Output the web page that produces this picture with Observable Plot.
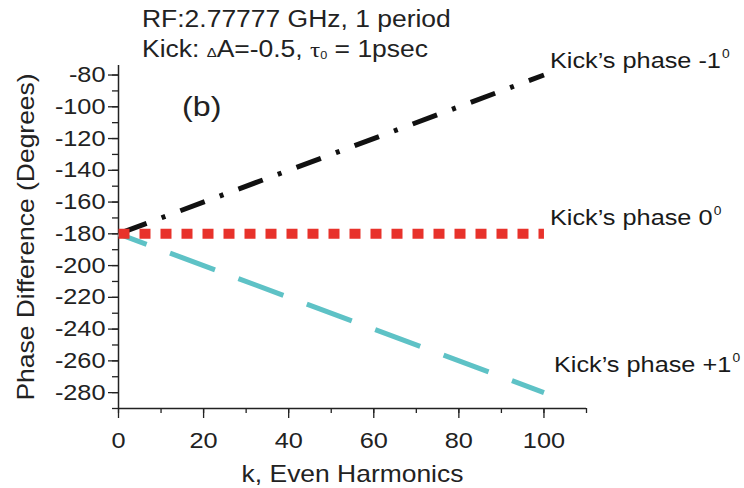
<!DOCTYPE html>
<html>
<head>
<meta charset="utf-8">
<script src="https://cdn.jsdelivr.net/npm/d3@7"></script>
<script src="https://cdn.jsdelivr.net/npm/@observablehq/plot@0.6"></script>
<style>
  body { margin: 0; background: #fff; font-family: "Liberation Sans", Arial, sans-serif; }
  #wrap { position: relative; width: 744px; height: 488px; overflow: hidden; }
  #chart { position: absolute; left: 0; top: 0; }
  .note { position: absolute; color: #222; white-space: nowrap; z-index: 2;
          transform: scaleX(1.15); transform-origin: left top; line-height: 1; }
  .title { left: 142px; font-size: 23px; }
  .greek { font-family: "Liberation Serif", serif; }
</style>
</head>
<body>
<div id="wrap">
  <div id="chart"></div>
  <div class="note title" style="top:8px">RF:2.77777 GHz, 1 period</div>
  <div class="note title" style="top:38px">Kick: <span style="font-size:13px">Δ</span>A=-0.5, <span class="greek" style="font-size:22px">τ</span><span style="font-size:11px;position:relative;top:2px">0</span> = 1psec</div>
  <div class="note" style="left:182px;top:93px;font-size:28px">(b)</div>
</div>
<script>
// Harmonic number at the ends of each straight line
const harmonics = [0, 100];
// Phase difference (degrees) for the three kick phases
const phaseMinus1 = [-180, -80];
const phase0 = [-180, -180];
const phasePlus1 = [-180, -280];
const seriesLabels = ["Kick’s phase -1", "Kick’s phase 0", "Kick’s phase +1"];
const degreeMark = "0";

// Axis ticks
const yTicks = d3.range(-280, -79, 20);
const yMinorTicks = d3.range(-290, -79, 10);
const xTicks = d3.range(0, 101, 20);
const xMinorTicks = d3.range(0, 111, 10);

const rows = (ys) => harmonics.map((k, i) => ({k, phase: ys[i]}));
// end-of-line labels with their nudges away from the line ends
const ends = [
  {k: harmonics[1], phase: phaseMinus1[1], label: seriesLabels[0], dx: 6, dy: -14},
  {k: harmonics[1], phase: phase0[1], label: seriesLabels[1], dx: 6, dy: -16},
  {k: harmonics[1], phase: phasePlus1[1], label: seriesLabels[2], dx: 10, dy: -28}
];

const ink = "#222";
const plain = (d) => `${d}`;

const chart = Plot.plot({
  width: 744,
  height: 488,
  marginLeft: 118,
  marginRight: 158,
  marginTop: 65,
  marginBottom: 80,
  style: {fontFamily: "'Liberation Sans', Arial, sans-serif", color: ink, background: "white", overflow: "visible"},
  x: {domain: [0, 110]},
  y: {domain: [-290, -74]},
  marks: [
    // minor ticks
    Plot.axisY(yMinorTicks, {tickSize: 6, tickFormat: () => "", label: null, stroke: ink, strokeWidth: 1.3}),
    Plot.axisX(xMinorTicks, {tickSize: 5, tickFormat: () => "", label: null, stroke: ink, strokeWidth: 1.3}),
    // major ticks and labels
    Plot.axisY(yTicks, {
      tickSize: 10, tickPadding: 3, fontSize: 22, stroke: ink, strokeWidth: 1.3, tickFormat: plain, label: null
    }),
    Plot.axisX(xTicks, {
      tickSize: 10, tickPadding: 14, fontSize: 22, stroke: ink, strokeWidth: 1.3, tickFormat: plain, label: null
    }),
    // axis titles
    Plot.axisY([], {label: "Phase Difference (Degrees)", labelAnchor: "center", labelArrow: "none",
      labelOffset: 101, fontSize: 23, tickSize: 0}),
    Plot.axisX([], {label: "k, Even Harmonics", labelAnchor: "center", labelArrow: "none",
      labelOffset: 73, fontSize: 23, tickSize: 0}),
    // axis lines
    Plot.ruleX([0], {stroke: ink, strokeWidth: 1.5}),
    Plot.ruleY([-290], {stroke: ink, strokeWidth: 1.5}),
    // series
    Plot.line(rows(phaseMinus1), {x: "k", y: "phase", stroke: "#111", strokeWidth: 5,
      strokeDasharray: "26,16,4,16", strokeDashoffset: -4, strokeLinecap: "butt"}),
    Plot.line(rows(phasePlus1), {x: "k", y: "phase", stroke: "#5ec2c6", strokeWidth: 5,
      strokeDasharray: "48,25", strokeDashoffset: 18, strokeLinecap: "butt"}),
    Plot.line(rows(phase0), {x: "k", y: "phase", stroke: "#e8322b", strokeWidth: 10,
      strokeDasharray: "11,10", strokeLinecap: "butt"}),
    // end labels
    Plot.text(ends, {x: "k", y: "phase", text: "label", textAnchor: "start", fontSize: 22, fill: "#1a1a1a"})
  ]
});

// nudge the end labels and add the small raised degree zero
d3.select(chart).selectAll("text").filter(function () {
  return seriesLabels.includes(this.textContent);
}).each(function () {
  const e = ends.find((d) => d.label === this.textContent);
  this.setAttribute("transform", (this.getAttribute("transform") || "") + ` translate(${e.dx},${e.dy})`);
  d3.select(this).append("tspan").attr("font-size", 12).attr("dx", 1).attr("dy", "-0.8em").text(degreeMark);
});

// the chart's lettering is set a little wide
d3.select(chart).selectAll("text").each(function () {
  this.setAttribute("transform", (this.getAttribute("transform") || "") + " scale(1.15,1)");
});

document.getElementById("chart").appendChild(chart);
</script>
</body>
</html>
